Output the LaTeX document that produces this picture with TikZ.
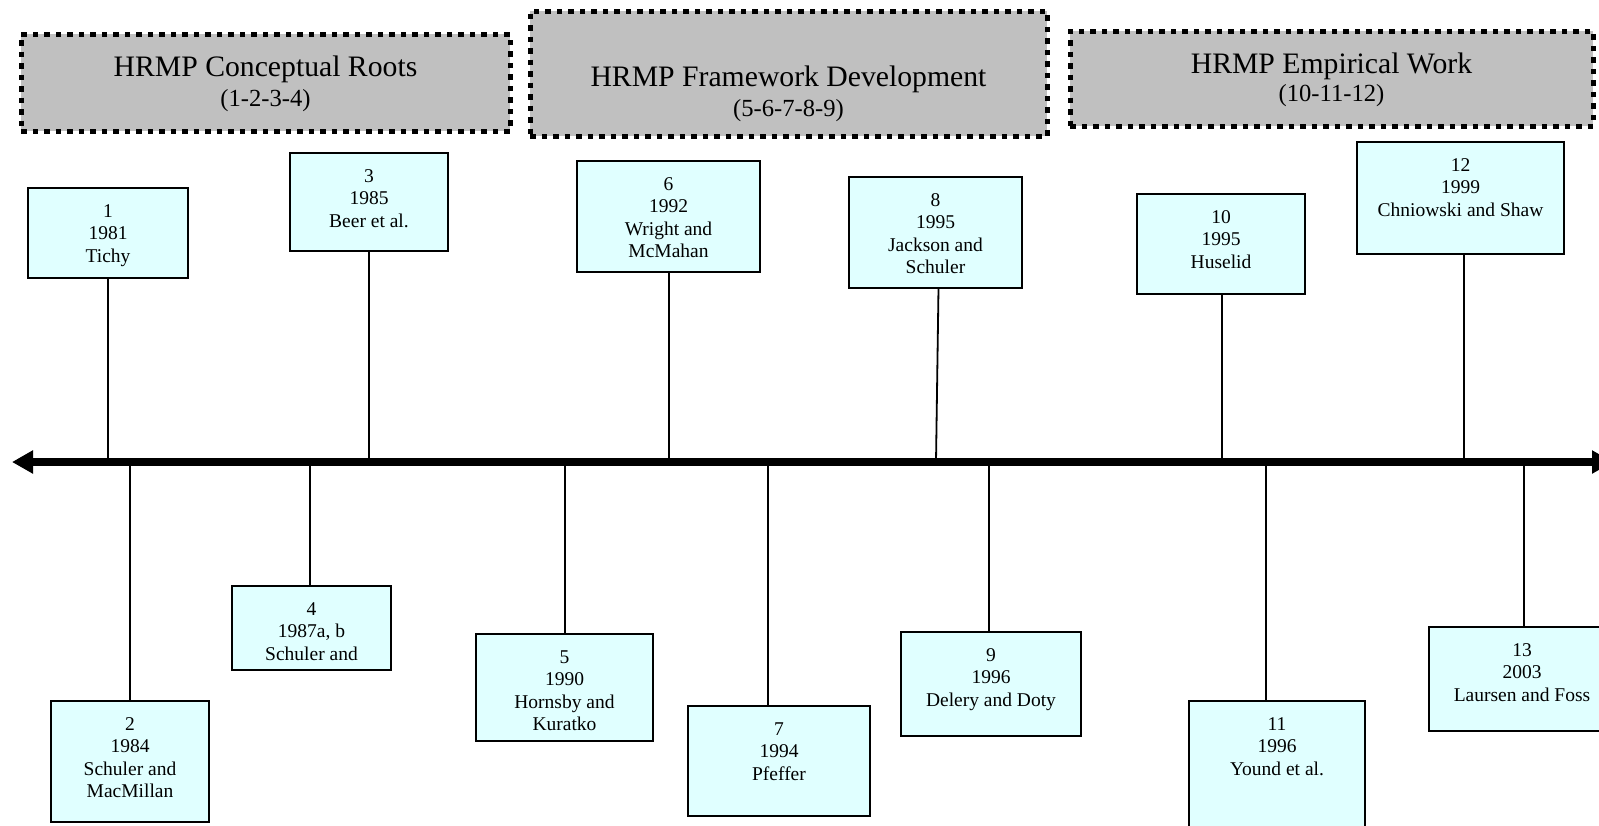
\documentclass[tikz,border=0pt]{standalone}
\usepackage{fontspec}
\setmainfont{Liberation Serif}
\usetikzlibrary{arrows.meta,calc}
\definecolor{entryfill}{RGB}{224,255,255}
\definecolor{phasefill}{RGB}{192,192,192}

% one publication box: name, left, top, right, bottom, text
\newcommand\pubentry[6]{%
  \node[entrybox, anchor=north west, minimum width={#4-#2}, minimum height={#5-#3}] (#1) at (#2,#3) {};
  \node[entrytext, anchor=north] (#1txt) at ([yshift=-16.3pt]#1.north) {#6};
}

\begin{document}
\begin{tikzpicture}[x=1pt,y=-1pt,
  entrybox/.style={draw=black, line width=1.8pt, fill=entryfill, inner sep=0pt, outer sep=0pt},
  entrytext/.style={align=center, inner sep=0pt, font=\fontsize{19.5}{22.5}\selectfont},
  phasebox/.style={draw=black, fill=phasefill, line width=5pt, dash pattern=on 5.5pt off 6pt, inner sep=0pt, outer sep=0pt},
  phasetitle/.style={inner sep=0pt, anchor=base, font=\fontsize{29.7}{35}\selectfont},
  phasesub/.style={inner sep=0pt, anchor=base, font=\fontsize{24.6}{29}\selectfont},
  link/.style={line width=1.8pt},
  timeaxis/.style={line width=7.5pt, {Triangle[length=21pt,width=22pt]}-{Triangle[length=21pt,width=22pt]}}
]
\useasboundingbox (0,0) rectangle (1599,825);

% phase headers
\node[phasebox, anchor=north west, minimum width=489, minimum height=97] (p1) at (21,34) {};
\node[phasetitle] (p1a) at (265.5,76.5) {HRMP Conceptual Roots};
\node[phasesub] (p1b) at (265.5,106) {(1-2-3-4)};

\node[phasebox, anchor=north west, minimum width=517, minimum height=125] (p2) at (530,11) {};
\node[phasetitle] (p2a) at (788.5,86) {HRMP Framework Development};
\node[phasesub] (p2b) at (788.5,116) {(5-6-7-8-9)};

\node[phasebox, anchor=north west, minimum width=523, minimum height=95] (p3) at (1070,31) {};
\node[phasetitle] (p3a) at (1331.5,73) {HRMP Empirical Work};
\node[phasesub] (p3b) at (1331.5,101.5) {(10-11-12)};

% publications
\pubentry{b1}{28}{188}{188}{278}{1\\1981\\Tichy}
\pubentry{b2}{51}{701}{209}{822}{2\\1984\\Schuler and\\MacMillan}
\pubentry{b3}{290}{153}{448}{251}{3\\1985\\Beer et al.}
\pubentry{b4}{232}{586}{391}{670}{4\\1987a, b\\Schuler and}
\pubentry{b5}{476}{634}{653}{741}{5\\1990\\Hornsby and\\Kuratko}
\pubentry{b6}{577}{161}{760}{272}{6\\1992\\Wright and\\McMahan}
\pubentry{b7}{688}{706}{870}{816}{7\\1994\\Pfeffer}
\pubentry{b8}{849}{177}{1022}{288}{8\\1995\\Jackson and\\Schuler}
\pubentry{b9}{901}{632}{1081}{736}{9\\1996\\Delery and Doty}
\pubentry{b10}{1137}{194}{1305}{294}{10\\1995\\Huselid}
\pubentry{b11}{1189}{701}{1365}{850}{11\\1996\\Yound et al.}
\pubentry{b12}{1357}{142}{1564}{254}{12\\1999\\Chniowski and Shaw}
\pubentry{b13}{1429}{627}{1615}{731}{13\\2003\\Laursen and Foss}

% points where the links meet the time line
\coordinate (a1) at (108,462);
\coordinate (a2) at (130,462);
\coordinate (a3) at (369,462);
\coordinate (a4) at (310,462);
\coordinate (a5) at (565,462);
\coordinate (a6) at (669,462);
\coordinate (a7) at (768,462);
\coordinate (a8) at (936,462);
\coordinate (a9) at (989,462);
\coordinate (a10) at (1222,462);
\coordinate (a11) at (1266,462);
\coordinate (a12) at (1464,462);
\coordinate (a13) at (1524,462);

% links above the line
\draw[link] (a1) -- (a1 |- b1.south);
\draw[link] (a3) -- (a3 |- b3.south);
\draw[link] (a6) -- (a6 |- b6.south);
\draw[link] (a8) -- ($(b8.south)+(3,0)$);
\draw[link] (a10) -- (a10 |- b10.south);
\draw[link] (a12) -- (a12 |- b12.south);
% links below the line
\draw[link] (a2) -- (a2 |- b2.north);
\draw[link] (a4) -- (a4 |- b4.north);
\draw[link] (a5) -- (a5 |- b5.north);
\draw[link] (a7) -- (a7 |- b7.north);
\draw[link] (a9) -- (a9 |- b9.north);
\draw[link] (a11) -- (a11 |- b11.north);
\draw[link] (a13) -- (a13 |- b13.north);

% time line
\coordinate (west) at (12,462);
\coordinate (east) at (1613,462);
\draw[timeaxis] (west) -- (east);
\end{tikzpicture}
\end{document}
